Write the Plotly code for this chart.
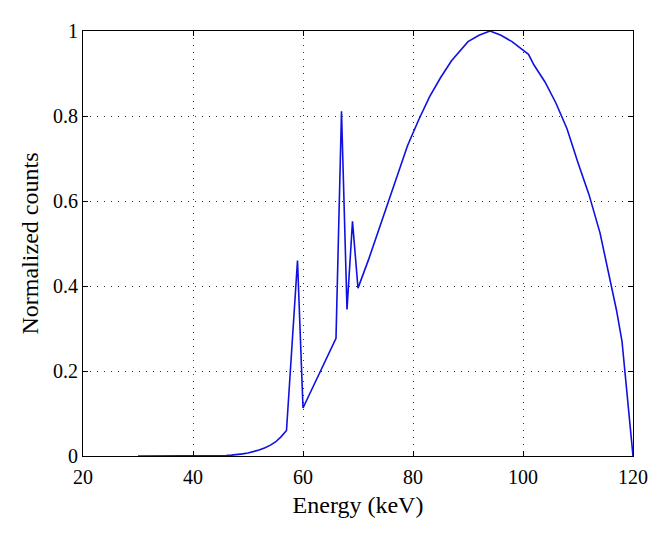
import plotly.graph_objects as go

energy = [30, 35, 40, 44, 45, 46, 47, 48, 49, 50, 51, 52, 53, 54, 55, 56, 57,
          59, 60, 66, 67, 68, 69, 70, 72, 74, 76, 78, 79, 81, 83, 85, 87, 90,
          92, 94, 96, 98, 99, 100, 101, 102, 104, 106, 108, 110, 112, 114, 116,
          117, 118, 118.5, 119, 119.5, 120]
counts = [0, 0, 0, 0, 0.0005, 0.001, 0.002, 0.003, 0.005, 0.007, 0.01, 0.014,
          0.019, 0.025, 0.033, 0.045, 0.06,
          0.46, 0.113, 0.277, 0.811, 0.345, 0.552, 0.395, 0.465, 0.54, 0.615,
          0.695, 0.73, 0.79, 0.845, 0.89, 0.93, 0.975,
          0.99, 1.0, 0.99, 0.975, 0.965, 0.955, 0.945, 0.92, 0.88, 0.83, 0.77,
          0.69, 0.615, 0.525, 0.40, 0.343, 0.27, 0.2, 0.135, 0.07, 0.0]

x_ticks = [20, 40, 60, 80, 100, 120]
y_ticks = [0, 0.2, 0.4, 0.6, 0.8, 1]
y_tick_labels = ["0", "0.2", "0.4", "0.6", "0.8", "1"]

font = "Liberation Serif"

fig = go.Figure()
fig.add_trace(go.Scatter(x=energy, y=counts, mode="lines",
                         line=dict(color="#1010e0", width=1.6),
                         showlegend=False, cliponaxis=False))

axis_common = dict(
    showline=True, linecolor="black", linewidth=1.2, mirror="ticks",
    ticks="inside", ticklen=5, tickcolor="black", tickwidth=1,
    showgrid=True, gridcolor="#333333", gridwidth=1, griddash="1px,6px",
    zeroline=False,
    tickfont=dict(family=font, size=20, color="black"),
)

fig.update_xaxes(range=[20, 120], tickvals=x_ticks, ticklabelstandoff=3,
                 title=dict(text="Energy (keV)", font=dict(family=font, size=24, color="black"), standoff=9),
                 **axis_common)
fig.update_yaxes(range=[0, 1], tickvals=y_ticks, ticktext=y_tick_labels,
                 title=dict(text="Normalized counts", font=dict(family=font, size=24, color="black"), standoff=7),
                 **axis_common)

# page body adds an 8px offset; compensate so the plot area lands at the reference position
fig.update_layout(
    width=654, height=525,
    margin=dict(l=75, r=29, t=13, b=77),
    paper_bgcolor="white", plot_bgcolor="white",
    font=dict(family=font, color="black"),
)

fig.write_html("out.html")
